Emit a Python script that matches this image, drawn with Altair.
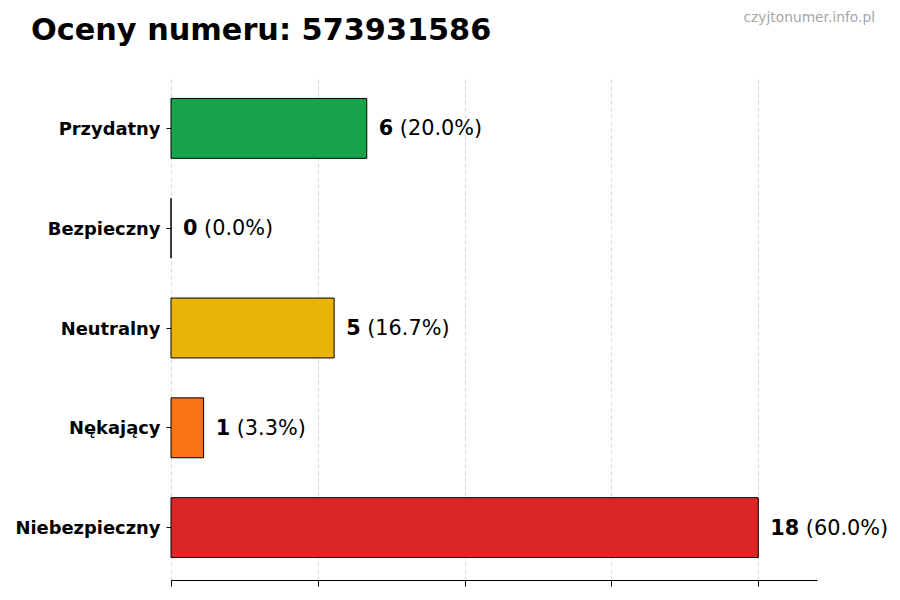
import altair as alt
import pandas as pd

categories = ["Przydatny", "Bezpieczny", "Neutralny", "Nękający", "Niebezpieczny"]
counts = [6, 0, 5, 1, 18]
percents = ["(20.0%)", "(0.0%)", "(16.7%)", "(3.3%)", "(60.0%)"]
colors = ["#16a34a", "#3b82f6", "#eab308", "#f97316", "#dc2626"]
title_text = "Oceny numeru: 573931586"
watermark = "czyjtonumer.info.pl"
x_ticks = [0, 4.5, 9, 13.5, 18]
x_max = 19.8

W, H = 646, 504
FONT = "DejaVu Sans"

df = pd.DataFrame({"cat": categories, "count": counts, "pct": percents})

y_enc = alt.Y(
    "cat:N",
    sort=categories,
    title=None,
    scale=alt.Scale(paddingInner=0.4, paddingOuter=0.225),
    axis=alt.Axis(
        domain=False, ticks=True, tickSize=5, tickColor="black",
        labelFont=FONT, labelFontSize=17.9, labelFontWeight="bold",
        labelColor="black", labelPadding=6, labelOffset=1.5, grid=False,
    ),
)
x_scale = alt.Scale(domain=[0, x_max], nice=False, zero=True)
x_axis = alt.Axis(
    values=x_ticks, labels=False, title=None, domain=True, domainColor="black",
    ticks=True, tickSize=6, tickColor="black", grid=True, gridColor="#cfcfcf",
    gridDash=[4, 3], gridWidth=0.8,
)

base = alt.Chart(df)

bars = base.mark_bar(stroke="black", strokeWidth=1).encode(
    x=alt.X("count:Q", scale=x_scale, axis=x_axis),
    y=y_enc,
    color=alt.Color("cat:N", scale=alt.Scale(domain=categories, range=colors), legend=None),
)

num_text = base.mark_text(
    align="left", baseline="middle", dx=12, dy=1, font=FONT, fontSize=20.8,
    fontWeight="bold", color="black",
).encode(
    x=alt.X("count:Q", scale=x_scale),
    y=alt.Y("cat:N", sort=categories),
    text="count:Q",
)

px_per_unit = W / x_max
pct_text = base.transform_calculate(
    xpos=f"datum.count + (12 + length(toString(datum.count)) * 14.5 + 6.6) / {px_per_unit}"
).mark_text(
    align="left", baseline="middle", dy=1, font=FONT, fontSize=20.8, color="black",
).encode(
    x=alt.X("xpos:Q", scale=x_scale),
    y=alt.Y("cat:N", sort=categories),
    text="pct:N",
)

title_mark = alt.Chart(pd.DataFrame({"t": [title_text]})).mark_text(
    align="left", baseline="alphabetic", font=FONT, fontSize=30.3,
    fontWeight="bold", color="black",
).encode(x=alt.value(-140), y=alt.value(-36), text="t:N")

wm_mark = alt.Chart(pd.DataFrame({"t": [watermark]})).mark_text(
    align="right", baseline="alphabetic", font=FONT, fontSize=13.8, color="#a6a6a6",
).encode(x=alt.value(704), y=alt.value(-54), text="t:N")

chart = alt.layer(bars, num_text, pct_text, title_mark, wm_mark).properties(
    width=W, height=H,
    background="white",
    autosize=alt.AutoSizeParams(type="none"),
    padding={"left": 163, "top": 68, "right": 75, "bottom": 12},
).configure_view(stroke=None, strokeWidth=0)

chart.save("out.html", embed_options={"renderer": "svg", "actions": False})
